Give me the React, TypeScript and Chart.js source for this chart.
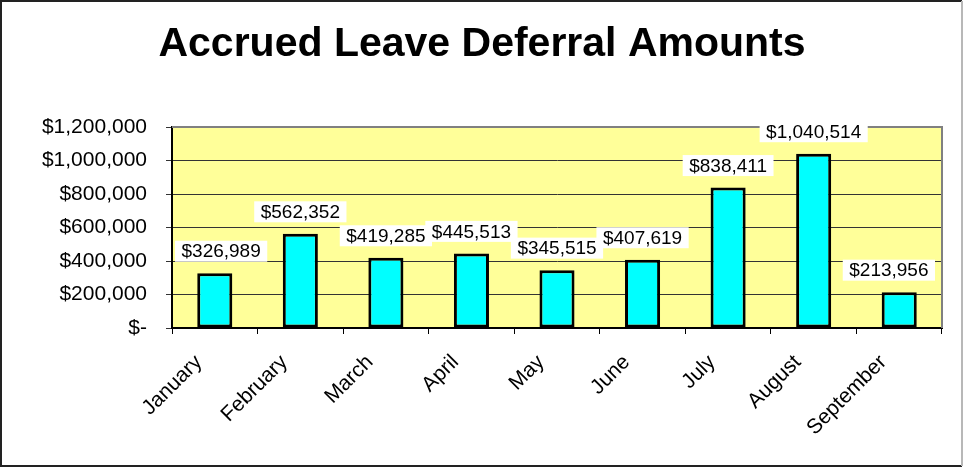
import React, { useEffect, useRef } from "react";
import { Chart, registerables } from "chart.js";

Chart.register(...registerables);

const TITLE = "Accrued Leave Deferral Amounts";
const months = ["January", "February", "March", "April", "May", "June", "July", "August", "September"];
const amounts = [326989, 562352, 419285, 445513, 345515, 407619, 838411, 1040514, 213956];
const yTickValues = [0, 200000, 400000, 600000, 800000, 1000000, 1200000];

const FONT = 'Arial, "Liberation Sans", Helvetica, sans-serif';

function fmtMoney(v: number): string {
  if (v === 0) return "$-";
  return "$" + Math.round(v).toLocaleString("en-US");
}

const framePlugin = {
  id: "frame",
  beforeDraw(chart: any) {
    const { ctx, chartArea, width, height } = chart;
    ctx.save();
    ctx.fillStyle = "#ffffff";
    ctx.fillRect(0, 0, width, height);
    ctx.fillStyle = "#FFFF99";
    ctx.fillRect(chartArea.left, chartArea.top, chartArea.right - chartArea.left, chartArea.bottom - chartArea.top);
    // outer border
    ctx.lineWidth = 2;
    ctx.strokeStyle = "#222";
    ctx.beginPath();
    ctx.moveTo(962, 1);
    ctx.lineTo(1, 1);
    ctx.lineTo(1, 466);
    ctx.lineTo(962, 466);
    ctx.stroke();
    ctx.strokeStyle = "#b8b8b8";
    ctx.beginPath();
    ctx.moveTo(962, 1);
    ctx.lineTo(962, 466);
    ctx.stroke();
    ctx.restore();
  },
  beforeDatasetsDraw(chart: any) {
    const { ctx, chartArea } = chart;
    ctx.save();
    ctx.strokeStyle = "#808080";
    ctx.lineWidth = 2;
    ctx.beginPath();
    ctx.moveTo(chartArea.left, chartArea.top);
    ctx.lineTo(chartArea.right, chartArea.top);
    ctx.lineTo(chartArea.right, chartArea.bottom);
    ctx.stroke();
    ctx.restore();
  },
  afterDraw(chart: any) {
    const { ctx, width } = chart;
    ctx.save();
    ctx.font = `bold 41px ${FONT}`;
    ctx.fillStyle = "#000";
    ctx.textAlign = "center";
    ctx.textBaseline = "middle";
    ctx.fillText(TITLE, width / 2, 45);
    ctx.restore();
  },
};

const valueLabelPlugin = {
  id: "valueLabels",
  afterDatasetsDraw(chart: any) {
    const { ctx, chartArea } = chart;
    const meta = chart.getDatasetMeta(0);
    const values = chart.data.datasets[0].data as number[];
    ctx.save();
    ctx.font = `19px ${FONT}`;
    ctx.textAlign = "center";
    ctx.textBaseline = "middle";
    meta.data.forEach((bar: any, i: number) => {
      const text = fmtMoney(values[i]);
      const w = ctx.measureText(text).width + 13;
      const h = 21;
      let cx = bar.x;
      const cy = bar.y - 22;
      cx = Math.max(chartArea.left + 3 + w / 2, Math.min(chartArea.right - 7 - w / 2, cx));
      ctx.fillStyle = "#ffffff";
      ctx.fillRect(cx - w / 2, cy - h / 2, w, h);
      ctx.fillStyle = "#000000";
      ctx.fillText(text, cx, cy + 1);
    });
    ctx.restore();
  },
};

export default function App() {
  const canvasRef = useRef<HTMLCanvasElement | null>(null);

  useEffect(() => {
    document.body.style.margin = "0";
    const canvas = canvasRef.current;
    if (!canvas) return;
    const chart = new Chart(canvas, {
      type: "bar",
      data: {
        labels: months,
        datasets: [
          {
            data: amounts,
            backgroundColor: "#00FFFF",
            borderColor: "#000000",
            borderWidth: 3,
            borderSkipped: false,
            barPercentage: 0.41,
            categoryPercentage: 1,
          },
        ],
      },
      options: {
        animation: false,
        responsive: false,
        devicePixelRatio: 1,
        layout: { padding: { left: 0, right: 22, top: 127, bottom: 0 } },
        plugins: {
          legend: { display: false },
          tooltip: { enabled: false },
          title: { display: false },
        },
        scales: {
          x: {
            grid: {
              drawOnChartArea: false,
              drawTicks: true,
              tickLength: 6,
              color: "#000",
              offset: true,
            },
            border: { color: "#000", width: 2 },
            ticks: {
              autoSkip: false,
              minRotation: 45,
              maxRotation: 45,
              color: "#000",
              font: { family: FONT, size: 21 },
              padding: 16,
              labelOffset: -16,
            },
            afterFit: (s: any) => {
              s.height = 140;
            },
          },
          y: {
            min: yTickValues[0],
            max: yTickValues[yTickValues.length - 1],
            afterBuildTicks: (s: any) => {
              s.ticks = yTickValues.map((v) => ({ value: v }));
            },
            grid: { color: "#333", lineWidth: 1, tickLength: 6, drawTicks: true },
            border: { color: "#000", width: 2 },
            ticks: {
              color: "#000",
              font: { family: FONT, size: 21 },
              padding: 19,
              callback: (v: any) => fmtMoney(Number(v)),
            },
            afterFit: (s: any) => {
              s.width = 172;
            },
          },
        },
      },
      plugins: [framePlugin, valueLabelPlugin],
    });
    return () => chart.destroy();
  }, []);

  return (
    <div style={{ width: 964, height: 468 }}>
      <canvas ref={canvasRef} width={964} height={468} style={{ display: "block", width: 964, height: 468 }} />
    </div>
  );
}
